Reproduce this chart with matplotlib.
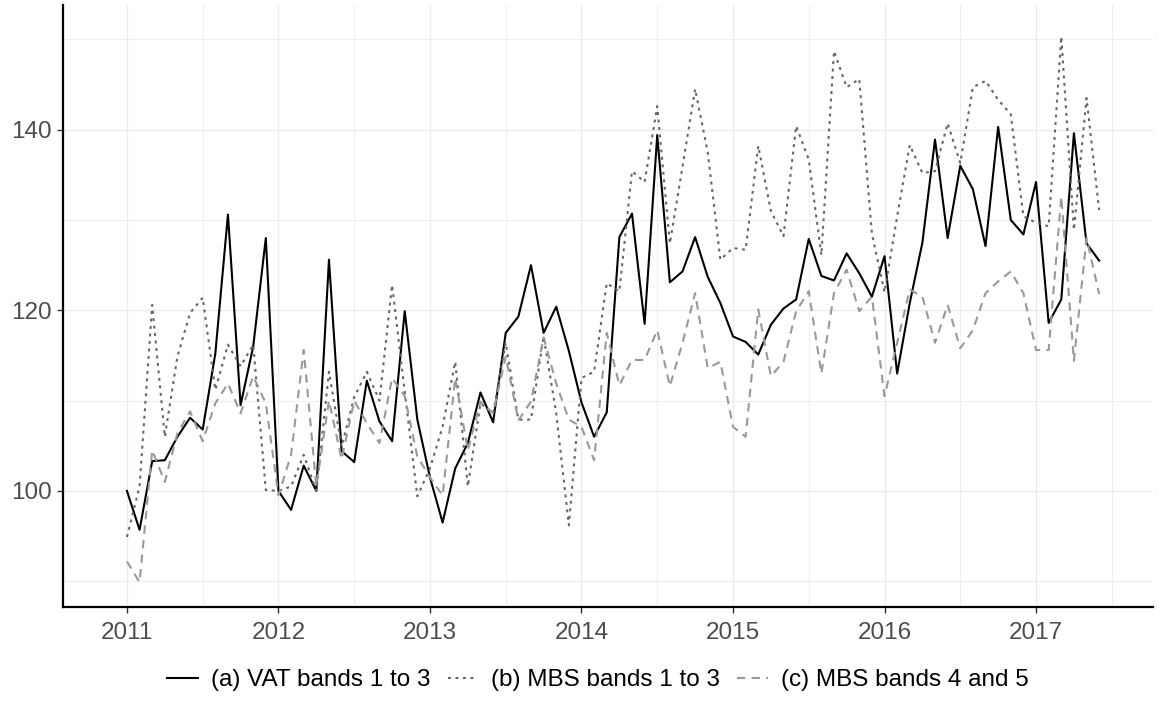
import matplotlib
matplotlib.use("Agg")
import matplotlib.pyplot as plt
import numpy as np

# Monthly index values, January 2011 to June 2017
vat_1_3 = [
    100.0, 95.7, 103.3, 103.4, 106.0, 108.1, 106.8, 115.2, 130.6, 109.5, 116.0, 128.0,
    100.0, 97.9, 102.8, 100.0, 125.6, 104.4, 103.2, 112.2, 107.7, 105.5, 119.9, 107.9,
    101.5, 96.5, 102.5, 105.3, 110.9, 107.6, 117.5, 119.3, 125.0, 117.5, 120.4, 115.5,
    109.8, 106.0, 108.7, 128.1, 130.7, 118.5, 139.4, 123.1, 124.3, 128.1, 123.7, 120.8,
    117.1, 116.5, 115.1, 118.4, 120.2, 121.2, 127.9, 123.8, 123.3, 126.3, 124.1, 121.5,
    126.0, 113.0, 120.8, 127.5, 138.9, 128.0, 136.0, 133.4, 127.1, 140.3, 130.0, 128.4,
    134.2, 118.6, 121.2, 139.6, 127.4, 125.5,
]
mbs_1_3 = [
    94.9, 100.5, 120.6, 106.0, 114.9, 119.7, 121.4, 111.2, 116.2, 113.8, 116.2, 100.1,
    100.0, 100.5, 104.0, 100.0, 113.2, 104.9, 110.4, 113.2, 110.0, 122.8, 111.0, 99.4,
    102.5, 107.1, 114.3, 100.5, 109.7, 108.6, 116.4, 107.9, 107.9, 117.1, 108.6, 96.2,
    112.5, 113.2, 123.0, 122.1, 135.4, 134.2, 142.6, 127.4, 135.9, 144.5, 137.5, 125.6,
    126.9, 126.7, 138.2, 131.0, 128.2, 140.4, 136.7, 126.1, 148.7, 144.7, 145.6, 128.5,
    122.0, 130.4, 138.3, 135.2, 135.4, 140.7, 136.3, 144.7, 145.4, 143.3, 141.7, 130.4,
    129.7, 129.3, 150.3, 128.9, 143.5, 131.1,
]
mbs_4_5 = [
    92.2, 89.9, 104.5, 101.0, 106.4, 108.8, 105.5, 109.7, 111.9, 108.6, 112.7, 109.7,
    99.5, 104.0, 115.6, 100.5, 110.0, 103.5, 110.0, 107.5, 105.3, 112.5, 110.5, 103.8,
    101.5, 99.5, 112.5, 104.5, 109.9, 108.6, 114.9, 107.8, 109.9, 117.0, 111.9, 107.9,
    107.1, 103.4, 117.5, 111.7, 114.5, 114.5, 117.8, 111.6, 116.4, 121.9, 113.6, 114.3,
    107.1, 106.0, 120.1, 112.7, 114.3, 119.9, 122.1, 113.0, 121.9, 124.5, 119.9, 121.5,
    110.5, 116.4, 122.3, 121.5, 116.4, 120.6, 115.8, 117.8, 121.9, 123.2, 124.3, 121.9,
    115.6, 115.6, 132.6, 114.4, 128.0, 121.8,
]
series_labels = ["(a) VAT bands 1 to 3", "(b) MBS bands 1 to 3", "(c) MBS bands 4 and 5"]
year_ticks = [2011, 2012, 2013, 2014, 2015, 2016, 2017]
value_ticks = [100, 120, 140]

start_year = 2011
t = start_year + np.arange(len(vat_1_3)) / 12.0

plt.rcParams["font.family"] = ["Liberation Sans", "DejaVu Sans"]
font_size = 17.5

fig = plt.figure(figsize=(11.59, 7.21), dpi=100)
ax = fig.add_axes([63 / 1159, 1 - 607 / 721, (1153 - 63) / 1159, (607 - 5) / 721])

grid_col = "#EBEBEB"
ax.set_xlim(2010.578, 2017.772)
ax.set_ylim(87.15, 153.8)
ax.set_xticks(year_ticks)
ax.set_xticklabels([str(y) for y in year_ticks])
ax.set_xticks([y + 0.5 for y in year_ticks], minor=True)
ax.set_yticks(value_ticks)
ax.set_yticklabels([str(v) for v in value_ticks])
ax.set_yticks([90, 110, 130, 150], minor=True)
ax.grid(True, which="major", color=grid_col, linewidth=1.0)
ax.grid(True, which="minor", color=grid_col, linewidth=0.6)
ax.set_axisbelow(True)

ax.tick_params(which="major", length=4, width=1.0, color="#333333",
               labelcolor="#4D4D4D", labelsize=font_size)
ax.tick_params(axis="x", which="major", pad=7)
ax.tick_params(axis="y", which="major", pad=4)
ax.tick_params(which="minor", length=0)
for side in ("top", "right"):
    ax.spines[side].set_visible(False)
for side in ("left", "bottom"):
    ax.spines[side].set_linewidth(1.6)
    ax.spines[side].set_color("black")

lw = 1.5
ax.plot(t, vat_1_3, color="black", linewidth=lw, linestyle="-", label=series_labels[0])
ax.plot(t, mbs_1_3, color="#666666", linewidth=lw, linestyle=(0, (1.4, 2.2)), label=series_labels[1])
ax.plot(t, mbs_4_5, color="#999999", linewidth=lw, linestyle=(0, (4, 3)), label=series_labels[2])

handles, labels = ax.get_legend_handles_labels()
fig.legend(handles, labels, loc="center", bbox_to_anchor=(598 / 1159, 1 - 680 / 721),
           ncol=3, frameon=False, fontsize=font_size, handlelength=1.25,
           columnspacing=0.7, handletextpad=0.55)

fig.savefig("out.png", dpi=100)
